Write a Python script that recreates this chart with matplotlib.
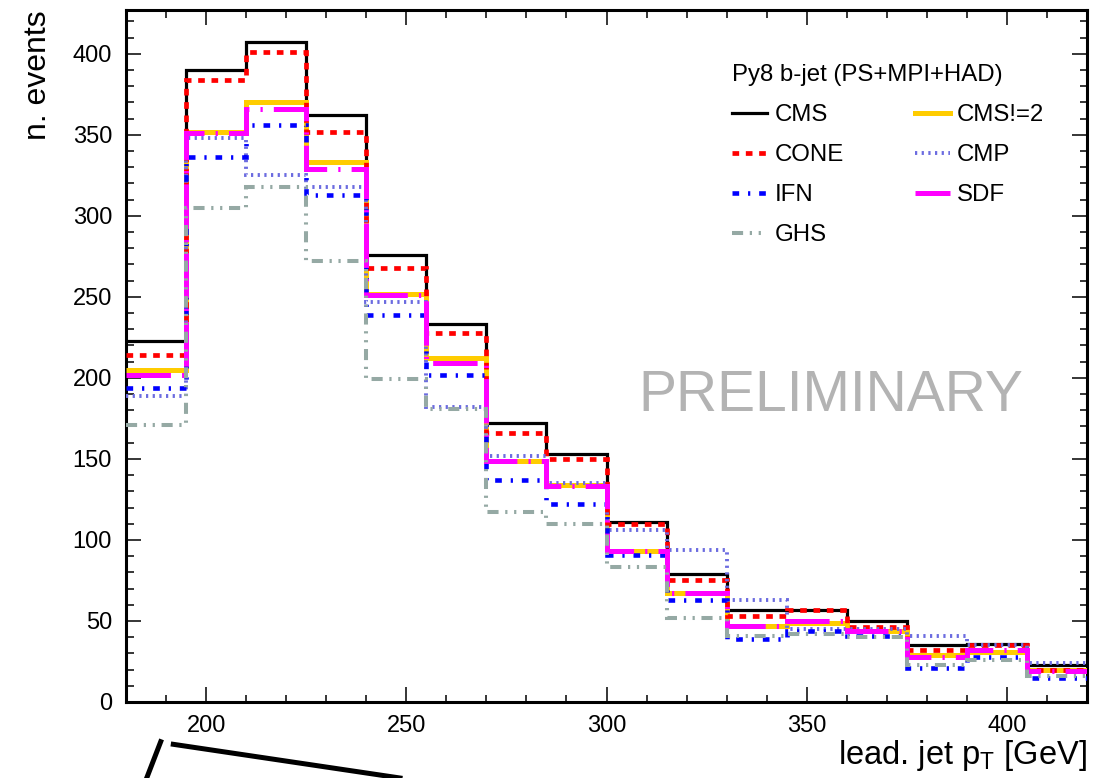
import numpy as np
import matplotlib
matplotlib.use("Agg")
import matplotlib.pyplot as plt
from matplotlib.lines import Line2D
from matplotlib.ticker import MultipleLocator

plt.rcParams['font.family'] = ['Liberation Sans', 'DejaVu Sans']
plt.rcParams['lines.scale_dashes'] = False

# bin edges in lead. jet pT [GeV]
edges = np.arange(180, 421, 15)

cms = [223, 390, 407, 362, 276, 233, 172, 153, 111, 79, 57, 57, 50, 35, 36, 23]
cone = [214, 384, 401, 352, 268, 228, 166, 150, 110, 75, 53, 57, 46, 32, 35, 20]
ifn = [194, 336, 356, 313, 239, 202, 137, 122, 91, 63, 39, 44, 41, 21, 28, 15]
ghs = [171, 305, 318, 272, 199, 181, 117, 110, 83, 52, 41, 42, 40, 23, 26, 16]
cms2 = [205, 352, 370, 333, 252, 212, 149, 134, 93, 67, 47, 49, 44, 29, 31, 20]
cmp_ = [189, 348, 325, 318, 247, 182, 152, 135, 106, 94, 63, 45, 45, 41, 35, 24]
sdf = [202, 351, 366, 329, 251, 209, 149, 133, 93, 67, 47, 50, 44, 28, 32, 19]

def root_dash(*units):
    # ROOT-like dash pattern, units -> points
    return (0, tuple(u * 0.4 for u in units))

fig = plt.figure(figsize=(10.94, 7.78), dpi=100)
ax = fig.add_axes([126 / 1094, 76 / 778, 961 / 1094, 692 / 778])

series = [
    (cms, 'CMS', 'black', 2.3, 'solid'),
    (cone, 'CONE', '#ff0000', 3.4, root_dash(12, 12)),
    (ifn, 'IFN', '#0000ff', 3.3, root_dash(12, 16, 4, 16)),
    (ghs, 'GHS', '#95a9a4', 2.9, root_dash(20, 12, 4, 12, 4, 12)),
    (cms2, 'CMS!=2', '#ffcc00', 3.6, 'solid'),
    (cmp_, 'CMP', '#6b6be0', 2.8, root_dash(4, 8)),
    (sdf, 'SDF', '#ff00ff', 3.6, root_dash(80, 20, 4, 20)),
]

draw_order = ['CMS', 'CMS!=2', 'CONE', 'CMP', 'IFN', 'SDF', 'GHS']
handles = {}
for vals, name, col, lw, ls in series:
    h = ax.stairs(vals, edges, baseline=None, color=col, linewidth=lw,
                  linestyle=ls, zorder=2 + draw_order.index(name), label=name)
    handles[name] = h

ax.set_xlim(180, 420)
ax.set_ylim(0, 427)

ax.xaxis.set_major_locator(MultipleLocator(50))
ax.xaxis.set_minor_locator(MultipleLocator(10))
ax.yaxis.set_major_locator(MultipleLocator(50))
ax.yaxis.set_minor_locator(MultipleLocator(10))
ax.tick_params(which='both', direction='in', top=True, right=True,
               width=1.1, labelsize=17)
ax.tick_params(which='major', length=10.8)
ax.tick_params(which='minor', length=5.4)
ax.tick_params(axis='y', pad=10)
ax.tick_params(axis='x', pad=9)
for s in ax.spines.values():
    s.set_linewidth(2.2)

ax.set_xlabel('lead. jet p$_\\mathregular{T}$ [GeV]', fontsize=23.5, loc='right', labelpad=1)
ax.set_ylabel('n. events', fontsize=23, loc='top', labelpad=14)

ax.text(308, 179.4, 'PRELIMINARY', fontsize=41, color='#b3b3b3',
        ha='left', va='baseline')

leg_order = ['CMS', 'CONE', 'IFN', 'GHS', 'CMS!=2', 'CMP', 'SDF']
leg = ax.legend([handles[n] for n in leg_order], leg_order, ncol=2,
                title='Py8 b-jet (PS+MPI+HAD)', title_fontsize=17.3,
                fontsize=17.3, frameon=False, loc='upper left',
                bbox_to_anchor=(0.631, 0.922), alignment='left',
                handlelength=1.46, handletextpad=0.3, labelspacing=0.75,
                columnspacing=2.95, borderpad=0, borderaxespad=0)

# stray line strokes below the axis
fig.add_artist(Line2D([160.7 / 1094, 146.7 / 1094], [1 - 741.7 / 778, 1 - 778 / 778],
                      color='black', linewidth=3.6, clip_on=False))
fig.add_artist(Line2D([173.3 / 1094, 400 / 1094], [1 - 744.3 / 778, 1 - 778 / 778],
                      color='black', linewidth=3.6, clip_on=False))

fig.savefig('out.png', dpi=100)
